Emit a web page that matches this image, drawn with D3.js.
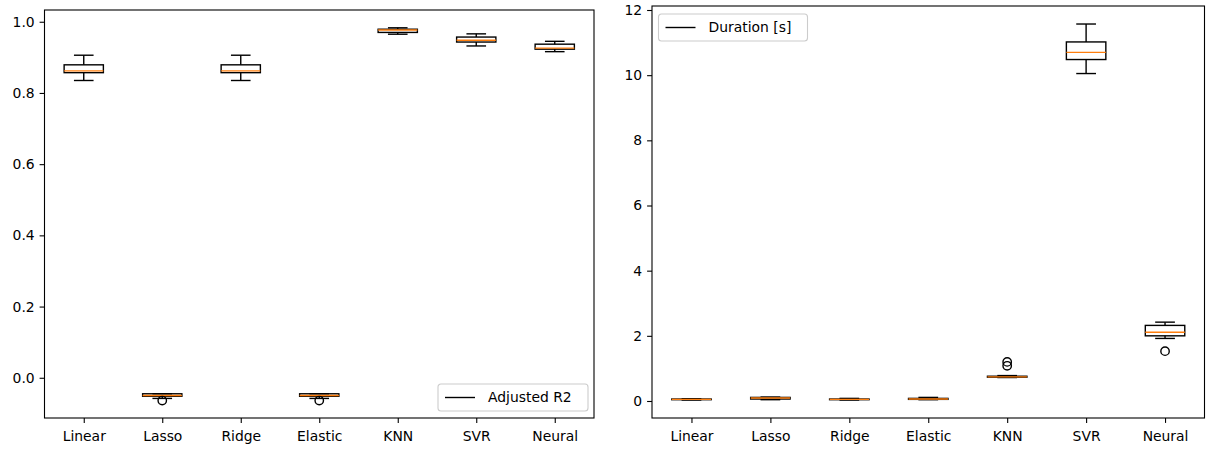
<!DOCTYPE html>
<html>
<head>
<meta charset="utf-8">
<script src="https://cdn.jsdelivr.net/npm/d3@7"></script>
<style>
  html, body { margin: 0; padding: 0; background: #fff; }
  svg text { font-family: "DejaVu Sans", sans-serif; }
</style>
</head>
<body>
<svg id="chart" width="1207" height="450"></svg>
<script>
// ---- data ----
const categories = ["Linear", "Lasso", "Ridge", "Elastic", "KNN", "SVR", "Neural"];

// Adjusted R2 box stats per model
const r2WhiskerLow = [0.835, -0.058, 0.835, -0.058, 0.965, 0.932, 0.916];
const r2Q1         = [0.857, -0.052, 0.857, -0.052, 0.970, 0.943, 0.923];
const r2Median     = [0.862, -0.050, 0.862, -0.050, 0.977, 0.948, 0.926];
const r2Q3         = [0.879, -0.045, 0.879, -0.045, 0.979, 0.957, 0.937];
const r2WhiskerHigh= [0.906, -0.045, 0.906, -0.045, 0.983, 0.966, 0.945];
const r2Outliers   = [[], [-0.064], [], [-0.064], [], [], []];

// Duration [s] box stats per model
const durWhiskerLow = [0.03, 0.04, 0.03, 0.04, 0.72, 10.05, 1.92];
const durQ1         = [0.04, 0.06, 0.04, 0.05, 0.73, 10.48, 2.00];
const durMedian     = [0.05, 0.09, 0.05, 0.06, 0.74, 10.70, 2.11];
const durQ3         = [0.06, 0.11, 0.06, 0.08, 0.76, 11.02, 2.32];
const durWhiskerHigh= [0.07, 0.12, 0.08, 0.11, 0.78, 11.57, 2.42];
const durOutliers   = [[], [], [], [], [1.08, 1.20], [], [1.53]];

const r2Ticks = [0.0, 0.2, 0.4, 0.6, 0.8, 1.0];
const durTicks = [0, 2, 4, 6, 8, 10, 12];

const r2Legend = "Adjusted R2";
const durLegend = "Duration [s]";

// ---- drawing ----
const svg = d3.select("#chart");
const FONT = 13.9;
const MEDIAN_COLOR = "#ff7f0e";

function makeStats(lo, q1, med, q3, hi, outl) {
  return categories.map((c, i) => ({cat: c, idx: i + 1, lo: lo[i], q1: q1[i], med: med[i], q3: q3[i], hi: hi[i], out: outl[i]}));
}

function drawPanel(opt) {
  const {left, right, top, bottom, yDomain, ticks, fmt, stats, legend, legendPos} = opt;
  const g = svg.append("g");
  const x = d3.scaleLinear().domain([0.5, categories.length + 0.5]).range([left, right]);
  const y = d3.scaleLinear().domain(yDomain).range([bottom, top]);
  const boxW = x(1.25) - x(0.75);
  const capW = boxW / 2;

  // boxes
  const bg = g.append("g");
  stats.forEach(d => {
    const cx = x(d.idx);
    const s = bg.append("g");
    s.append("line").attr("x1", cx).attr("x2", cx).attr("y1", y(d.q1)).attr("y2", y(d.lo))
      .attr("stroke", "#000").attr("stroke-width", 1.4);
    s.append("line").attr("x1", cx).attr("x2", cx).attr("y1", y(d.q3)).attr("y2", y(d.hi))
      .attr("stroke", "#000").attr("stroke-width", 1.4);
    [d.lo, d.hi].forEach(v => {
      s.append("line").attr("x1", cx - capW / 2).attr("x2", cx + capW / 2)
        .attr("y1", y(v)).attr("y2", y(v)).attr("stroke", "#000").attr("stroke-width", 1.4);
    });
    s.append("rect").attr("x", cx - boxW / 2).attr("width", boxW)
      .attr("y", y(d.q3)).attr("height", Math.max(0.01, y(d.q1) - y(d.q3)))
      .attr("fill", "none").attr("stroke", "#000").attr("stroke-width", 1.4);
    s.append("line").attr("x1", cx - boxW / 2).attr("x2", cx + boxW / 2)
      .attr("y1", y(d.med)).attr("y2", y(d.med)).attr("stroke", MEDIAN_COLOR).attr("stroke-width", 1.4);
    d.out.forEach(v => {
      s.append("circle").attr("cx", cx).attr("cy", y(v)).attr("r", 4.2)
        .attr("fill", "none").attr("stroke", "#000").attr("stroke-width", 1.4);
    });
  });

  // axes
  const xAxis = d3.axisBottom(x).tickValues(categories.map((c, i) => i + 1))
    .tickFormat((d) => categories[d - 1]).tickSize(4.9).tickPadding(8.4);
  const gx = g.append("g").attr("transform", `translate(0,${bottom})`).call(xAxis);
  const yAxis = d3.axisLeft(y).tickValues(ticks).tickFormat(fmt).tickSize(4.9).tickPadding(4.9);
  const gy = g.append("g").attr("transform", `translate(${left},0)`).call(yAxis);
  [gx, gy].forEach(a => {
    a.select(".domain").remove();
    a.selectAll(".tick line").attr("stroke", "#000").attr("stroke-width", 1.1);
    a.selectAll(".tick text").attr("fill", "#000").style("font-size", FONT + "px")
      .style("font-family", "'DejaVu Sans', sans-serif");
  });

  // frame
  g.append("rect").attr("x", left).attr("y", top).attr("width", right - left).attr("height", bottom - top)
    .attr("fill", "none").attr("stroke", "#000").attr("stroke-width", 1.1);

  // legend
  const lg = g.append("g").attr("transform", `translate(${legendPos.x},${legendPos.y})`);
  const lw = legendPos.w, lh = legendPos.h;
  lg.append("rect").attr("width", lw).attr("height", lh).attr("rx", 3).attr("ry", 3)
    .attr("fill", "#fff").attr("fill-opacity", 0.8).attr("stroke", "#cccccc").attr("stroke-width", 1.1);
  lg.append("line").attr("x1", 7).attr("x2", 7 + 30).attr("y1", lh / 2).attr("y2", lh / 2)
    .attr("stroke", "#000").attr("stroke-width", 1.4);
  lg.append("text").attr("x", 50).attr("y", lh / 2).attr("dy", "0.35em")
    .style("font-size", FONT + "px").attr("fill", "#000").text(legend);
}

drawPanel({
  left: 44.5, right: 594, top: 10, bottom: 418,
  yDomain: [-0.113, 1.033], ticks: r2Ticks, fmt: d3.format(".1f"),
  stats: makeStats(r2WhiskerLow, r2Q1, r2Median, r2Q3, r2WhiskerHigh, r2Outliers),
  legend: r2Legend, legendPos: {x: 438, y: 384, w: 150, h: 27}
});

drawPanel({
  left: 652, right: 1204.5, top: 6, bottom: 418,
  yDomain: [-0.522, 12.123], ticks: durTicks, fmt: d3.format("d"),
  stats: makeStats(durWhiskerLow, durQ1, durMedian, durQ3, durWhiskerHigh, durOutliers),
  legend: durLegend, legendPos: {x: 658.5, y: 14, w: 149, h: 27}
});
</script>
</body>
</html>
